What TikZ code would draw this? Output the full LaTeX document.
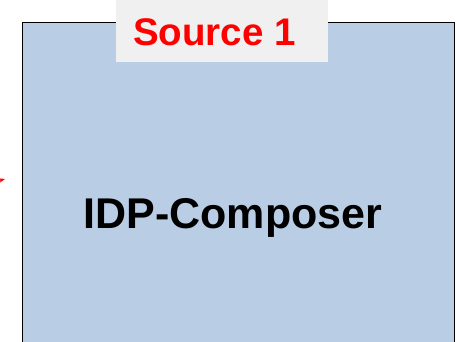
\documentclass[tikz,border=0pt]{standalone}
\usepackage{fontspec}
\setmainfont{Liberation Sans}
\usetikzlibrary{arrows.meta}
\definecolor{panelblue}{HTML}{B9CDE5}
\definecolor{tabgray}{HTML}{F0F0F0}
\tikzset{
  panel/.style={draw=black, line width=1.3pt, fill=panelblue, inner sep=0pt, anchor=north west},
  tab/.style={fill=tabgray, inner sep=0pt, anchor=north west}
}
\begin{document}
\begin{tikzpicture}[x=1pt, y=-1pt]
    \useasboundingbox (0,0) rectangle (458,341);
    \node (composer) [panel, minimum width=432pt, minimum height=340pt] at (22,22) {};
    \node (tab) [tab, minimum width=212pt, minimum height=62pt] at (116,0) {};
    \node (source) [anchor=base west, inner sep=0pt, text=red, font=\fontsize{38.5}{44}\selectfont\bfseries] at (133,45) {Source 1};
    \node (title) [anchor=base, inner sep=0pt, font=\fontsize{43}{50}\selectfont\bfseries] at (233,228) {IDP-Composer};
    \coordinate (tail) at (-30,188);
    \coordinate (tip) at (5,179);
    \draw[red, line width=1pt, -{Stealth[length=6pt]}] (tail) -- (tip);
  \end{tikzpicture}
\end{document}
